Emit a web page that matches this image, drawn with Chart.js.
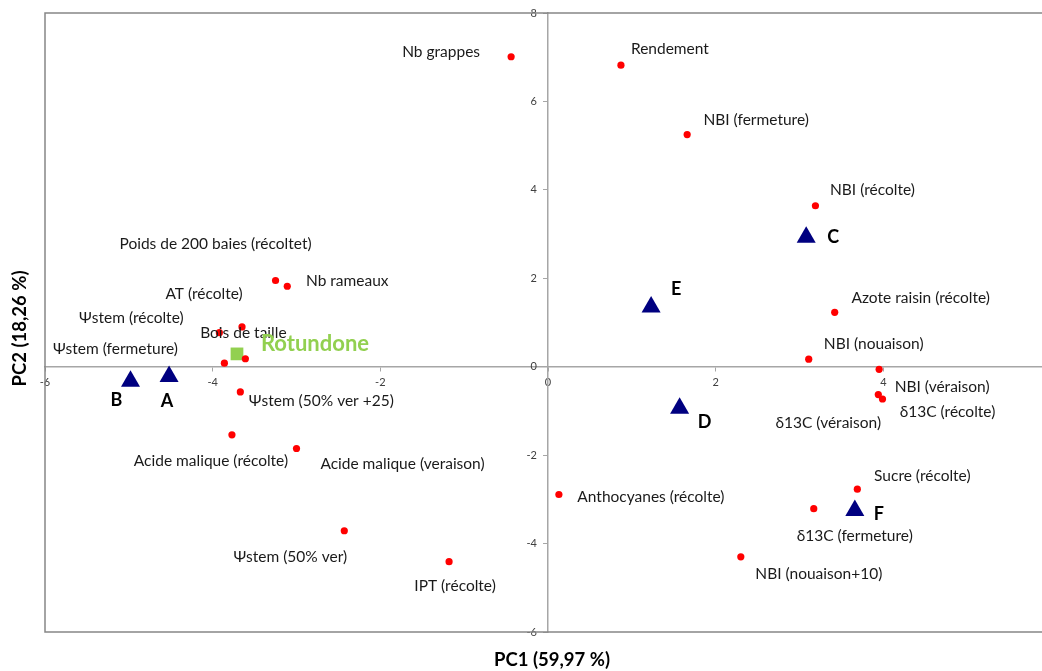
<!DOCTYPE html>
<html>
<head>
<meta charset="utf-8">
<script src="https://cdn.jsdelivr.net/npm/chart.js@4"></script>
<style>
    html, body { margin: 0; padding: 0; background: #fff; overflow: hidden; }
    #wrap { width: 1062px; height: 671px; }
</style>
</head>
<body>
<div id="wrap"><canvas id="pcaChart"></canvas></div>
<script>
// variables (red dots)
const varNames = [
    'Nb grappes', 'Rendement', 'NBI (fermeture)', 'NBI (récolte)', 'Azote raisin (récolte)',
    'NBI (nouaison)', 'NBI (véraison)', 'δ13C (véraison)', 'δ13C (récolte)', 'Sucre (récolte)',
    'δ13C (fermeture)', 'NBI (nouaison+10)', 'Anthocyanes (récolte)', 'IPT (récolte)', 'Ψstem (50% ver)',
    'Acide malique (veraison)', 'Acide malique (récolte)', 'Ψstem (50% ver +25)', 'Poids de 200 baies (récoltet)', 'Nb rameaux',
    'AT (récolte)', 'Bois de taille', 'Ψstem (récolte)', 'Ψstem (fermeture)'
];
const varPC1 = [-0.44, 0.87, 1.66, 3.19, 3.42, 3.11, 3.95, 3.94, 3.99, 3.69, 3.17, 2.30, 0.13, -1.18, -2.43,
    -3.00, -3.77, -3.67, -3.25, -3.11, -3.65, -3.92, -3.61, -3.86];
const varPC2 = [7.01, 6.82, 5.25, 3.64, 1.23, 0.17, -0.06, -0.63, -0.73, -2.77, -3.21, -4.30, -2.89, -4.41, -3.71,
    -1.85, -1.54, -0.57, 1.95, 1.82, 0.90, 0.77, 0.18, 0.08];

// samples (triangles)
const sampleNames = ['A', 'B', 'C', 'D', 'E', 'F'];
const samplePC1 = [-4.52, -4.98, 3.08, 1.57, 1.23, 3.66];
const samplePC2 = [-0.22, -0.33, 2.93, -0.94, 1.35, -3.25];

// rotundone (green square)
const rotName = ['Rotundone'];
const rotPC1 = [-3.71];
const rotPC2 = [0.29];

const xTicks = [-6, -4, -2, 0, 2, 4, 6];
const yTicks = [-6, -4, -2, 0, 2, 4, 6, 8];

// where each label sits relative to its point, in px
const varLabelOffsets = [
    [-70, -5], [49, -16], [69, -15], [57, -16], [86, -14],
    [65, -15], [63, 18], [-50, 28], [65, 13], [65, -13],
    [41, 27], [78, 17], [92, 3], [6, 24], [-54, 26],
    [106, 15], [-21, 26], [81, 9], [-60, -36], [60, -5],
    [-38, -33], [24, 0], [-114, -41], [-109, -14]
];
const sampleLabelOffsets = [[-2, 25], [-14, 19], [27, 0], [25, 14], [25, -18], [24, 4]];
const rotLabelOffsets = [[78, -10]];

const FONT = 'Lato, "Open Sans", sans-serif';

const pointLabels = {
    id: 'pointLabels',
    afterDatasetsDraw(chart) {
        const ctx = chart.ctx;
        ctx.save();
        ctx.textAlign = 'center';
        ctx.textBaseline = 'middle';
        chart.data.datasets.forEach((ds, i) => {
            const meta = chart.getDatasetMeta(i);
            ctx.font = ds.labelFont;
            ctx.fillStyle = ds.labelColor;
            meta.data.forEach((pt, j) => {
                const off = ds.labelOffsets[j];
                ctx.fillText(ds.names[j], pt.x + off[0], pt.y + off[1]);
            });
        });
        ctx.restore();
    }
};

const frameAndTitles = {
    id: 'frameAndTitles',
    beforeDatasetsDraw(chart) {
        const a = chart.chartArea;
        const ctx = chart.ctx;
        ctx.save();
        ctx.strokeStyle = '#868686';
        ctx.lineWidth = 1.5;
        ctx.beginPath();
        ctx.moveTo(a.right, a.top);
        ctx.lineTo(a.left, a.top);
        ctx.lineTo(a.left, a.bottom);
        ctx.lineTo(a.right, a.bottom);
        ctx.stroke();

        ctx.fillStyle = '#000';
        ctx.font = 'bold 18.5px ' + FONT;
        ctx.textAlign = 'center';
        ctx.textBaseline = 'middle';
        ctx.fillText('PC1 (59,97 %)', chart.scales.x.getPixelForValue(0) + 4, a.bottom + 28);
        ctx.translate(20, (a.top + a.bottom) / 2 + 6);
        ctx.rotate(-Math.PI / 2);
        ctx.fillText('PC2 (18,26 %)', 0, 0);
        ctx.restore();
    }
};

const ctx = document.getElementById('pcaChart').getContext('2d');
new Chart(ctx, {
    type: 'scatter',
    data: {
        datasets: [{
            label: 'Variables',
            data: varPC1.map((x, i) => ({ x: x, y: varPC2[i] })),
            names: varNames,
            labelOffsets: varLabelOffsets,
            labelFont: '15.5px ' + FONT,
            labelColor: '#1a1a1a',
            pointStyle: 'circle',
            pointRadius: 3.6,
            backgroundColor: '#ff0000',
            borderWidth: 0
        }, {
            label: 'Rotundone',
            data: rotPC1.map((x, i) => ({ x: x, y: rotPC2[i] })),
            names: rotName,
            labelOffsets: rotLabelOffsets,
            labelFont: 'bold 22px ' + FONT,
            labelColor: '#92d050',
            pointStyle: 'rect',
            pointRadius: 9,
            backgroundColor: '#92d050',
            borderWidth: 0
        }, {
            label: 'Parcelles',
            data: samplePC1.map((x, i) => ({ x: x, y: samplePC2[i] })),
            names: sampleNames,
            labelOffsets: sampleLabelOffsets,
            labelFont: 'bold 18px ' + FONT,
            labelColor: '#000',
            pointStyle: 'triangle',
            pointRadius: 11,
            backgroundColor: '#000080',
            borderWidth: 0
        }]
    },
    options: {
        responsive: true,
        maintainAspectRatio: false,
        animation: false,
        events: [],
        layout: { padding: { left: 45, top: 13, right: 11, bottom: 39 } },
        plugins: {
            legend: { display: false },
            tooltip: { enabled: false }
        },
        scales: {
            x: {
                type: 'linear',
                min: -6,
                max: 6,
                position: { y: 0 },
                afterBuildTicks: axis => { axis.ticks = xTicks.map(v => ({ value: v })); },
                border: { display: true, color: '#a6a6a6', width: 1.5 },
                grid: { display: true, drawOnChartArea: false, drawTicks: true, tickLength: 4, color: '#a6a6a6' },
                ticks: { color: '#404040', font: { size: 11, family: FONT }, padding: 5 }
            },
            y: {
                type: 'linear',
                min: -6,
                max: 8,
                position: { x: 0 },
                afterBuildTicks: axis => { axis.ticks = yTicks.map(v => ({ value: v })); },
                border: { display: true, color: '#a6a6a6', width: 1.5 },
                grid: { display: true, drawOnChartArea: false, drawTicks: true, tickLength: 4, color: '#a6a6a6' },
                // labels sit right-aligned on the axis itself, so pad them with en spaces
                ticks: { color: '#404040', font: { size: 11, family: FONT }, callback: v => v + '\u2002\u2002' }
            }
        }
    },
    plugins: [frameAndTitles, pointLabels]
});
</script>
</body>
</html>
